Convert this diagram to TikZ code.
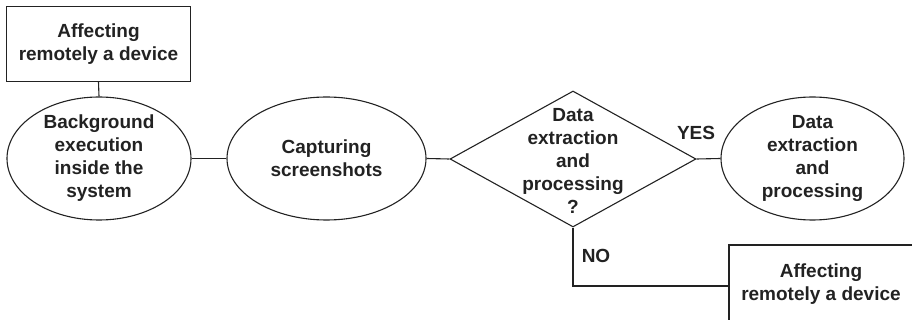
\documentclass[tikz,border=0pt]{standalone}
\usepackage{fontspec}
\setmainfont{Liberation Sans}
\usetikzlibrary{shapes.geometric}
\definecolor{ink}{HTML}{222222}
\tikzset{
  every node/.style={font=\bfseries\fontsize{19}{23}\selectfont, text=ink},
  line/.style={draw=ink, line width=1.1pt},
  boxnode/.style={line, rectangle, minimum width=184pt, minimum height=75pt, inner sep=0pt, align=center},
  ellnode/.style={line, ellipse, minimum height=123pt, inner sep=0pt, align=center},
  decnode/.style={line, diamond, minimum width=246pt, minimum height=136pt, inner sep=0pt},
  txt/.style={align=center, inner sep=0pt},
}
\begin{document}
\begin{tikzpicture}[x=1pt, y=-1pt]
  \path[use as bounding box, clip] (0,0) rectangle (912,320);

  % process chain
  \node[boxnode] (remote1) at (98.5,44) {Affecting\\remotely a device};
  \node[ellnode, minimum width=184pt] (bg) at (99,158.5) {Background\\execution\\inside the\\system};
  \node[ellnode, minimum width=199pt] (cap) at (326.5,158.5) {Capturing\\screenshots};
  \node[decnode] (dec) at (573,159) {};
  \node[txt] (dectext) at (573,160.5) {Data\\extraction\\and\\processing\\?};
  \node[ellnode, minimum width=183pt] (proc) at (812.5,158.5) {Data\\extraction\\and\\processing};
  % lower outcome box runs past the right and bottom borders
  \node[boxnode, minimum width=188pt, minimum height=79pt] (remote2) at (823,284.5) {};
  \node[txt] (remote2text) at (821,284) {Affecting\\remotely a device};

  % connectors
  \path[line] (remote1.south) -- (bg.north);
  \path[line] (bg.east) -- (cap.west);
  \path[line] (cap.east) -- (dec.west);
  \path[line] (dec.east) -- (proc.west);
  \path[line] (dec.south) |- ([yshift=-1.5pt]remote2.west);

  % branch labels
  \node (yes) at (696,133) {YES};
  \node (no) at (596,256) {NO};
\end{tikzpicture}
\end{document}
